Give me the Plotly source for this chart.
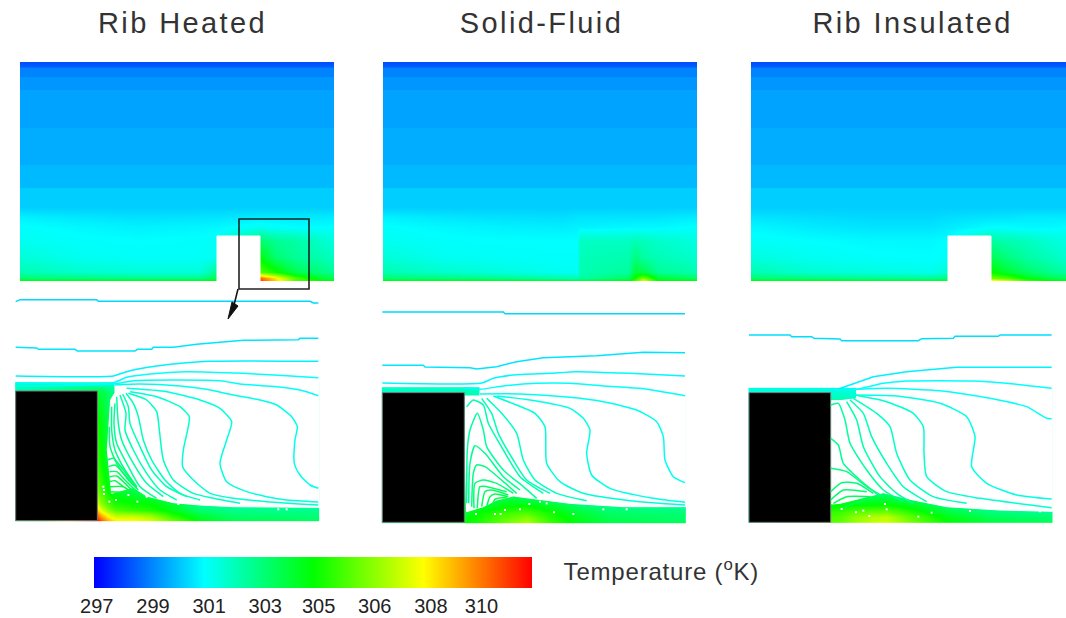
import plotly.graph_objects as go

W, H = 1066, 618
titles = ["Rib Heated", "Solid-Fluid", "Rib Insulated"]
title_centres = [182, 541, 912]
bar_temps = [296.9, 300.8, 304.7, 308.6, 312.5]
tick_vals = [297.0, 299.0, 301.0, 303.0, 304.9, 306.9, 308.9, 310.7]
tick_text = ["297", "299", "301", "303", "305", "306", "308", "310"]
cmin, cmax = 296.9, 312.5
scale = [[0, "#0000ff"], [.25, "#00ffff"], [.5, "#00ff00"], [.75, "#ffff00"], [1, "#ff0000"]]

# ---------- top field panels: temperature on a (distance, depth) grid
# the upper part of the channel is stepped, the same in all three panels
upper_y = [0, 4, 6, 14, 15, 27, 28, 65, 66, 102, 103, 125, 126, 145]
upper_t = [298.1, 298.3, 298.9, 298.9, 299.2, 299.2, 299.4, 299.4, 299.55, 299.55, 299.75, 299.75, 300.05, 300.05]
lower_y = [155, 165, 178, 195, 210, 216, 219]
a_x = [0, 60, 120, 180, 197, 240, 255, 275, 300, 314]
a_z = [
 [300.6, 300.45, 300.35, 300.4, 300.4, 300.5, 300.5, 300.5, 300.5, 300.5],
 [300.85, 300.7, 300.6, 300.65, 300.7, 301.0, 300.9, 300.8, 300.8, 300.8],
 [301.0, 300.85, 300.8, 300.85, 300.9, 303.0, 302.4, 302.2, 301.6, 301.3],
 [301.4, 301.0, 300.9, 300.9, 301.0, 304.5, 303.0, 302.4, 302.0, 301.7],
 [302.0, 301.6, 301.4, 301.4, 302.5, 306.0, 305.0, 303.5, 302.8, 302.4],
 [303.0, 302.8, 302.6, 302.6, 303.5, 311.0, 309.0, 306.0, 304.0, 303.5],
 [305.0, 305.0, 305.0, 305.0, 305.0, 311.5, 309.5, 306.0, 305.0, 305.0],
]
b_x = [0, 60, 120, 180, 194, 197, 245, 252, 260, 275, 300, 314]
b_z = [
 [300.6, 300.45, 300.35, 300.3, 300.4, 300.4, 300.4, 300.4, 300.4, 300.4, 300.5, 300.5],
 [300.85, 300.7, 300.6, 300.55, 300.6, 300.6, 300.7, 300.7, 300.7, 300.7, 300.8, 300.85],
 [301.0, 300.85, 300.8, 300.8, 300.8, 301.7, 301.7, 301.9, 301.8, 301.6, 301.4, 301.2],
 [301.4, 301.0, 300.9, 300.85, 300.85, 301.9, 302.0, 302.8, 302.2, 301.9, 301.7, 301.5],
 [302.0, 301.6, 301.3, 301.0, 301.0, 302.0, 302.3, 303.8, 303.6, 302.4, 302.2, 302.0],
 [303.0, 302.8, 302.5, 302.1, 302.0, 302.2, 303.2, 305.0, 306.8, 304.0, 303.4, 303.2],
 [305.0, 305.0, 305.0, 304.6, 304.4, 304.4, 305.0, 306.0, 308.4, 305.0, 305.0, 305.0],
]
c_x = [0, 60, 120, 180, 197, 240, 255, 275, 300, 315]
c_z = [
 [300.4, 300.3, 300.2, 300.2, 300.3, 300.4, 300.4, 300.5, 300.5, 300.5],
 [300.7, 300.5, 300.4, 300.4, 300.5, 300.8, 300.8, 300.7, 300.7, 300.8],
 [300.9, 300.8, 300.7, 300.7, 300.8, 302.2, 302.0, 301.8, 301.4, 301.2],
 [301.3, 301.0, 300.85, 300.8, 300.9, 303.4, 302.8, 302.2, 301.8, 301.5],
 [302.0, 301.5, 301.3, 301.1, 301.5, 304.8, 304.0, 303.2, 302.5, 302.2],
 [303.0, 302.8, 302.5, 302.4, 302.8, 306.5, 306.0, 304.6, 303.6, 303.2],
 [305.0, 305.0, 304.8, 304.6, 304.6, 309.5, 308.6, 306.0, 305.0, 305.0],
]
rib_x = [197, 240]
rib_y = [174, 219]

# ---------- bottom close-ups: contour lines and wall fields
p1_hx = [47, 292, 300, 320, 345, 400, 450, 520, 600, 700, 955]
p1_hy = [278, 303, 400, 520, 600, 640, 660, 675, 692]
p1_hz = [
 [301.6]*11,
 [302.0, 303.8, 303.8, 303.2, 302.4, 302.0, 302.0, 302.0, 302.0, 302.0, 302.0],
 [302.0, 305.0, 304.6, 303.6, 302.6, 302.0, 302.0, 302.0, 302.0, 302.0, 302.0],
 [302.0, 305.5, 305.0, 304.0, 303.0, 302.5, 302.0, 302.0, 302.0, 302.0, 302.0],
 [302.0, 306.5, 305.8, 304.8, 304.0, 303.6, 303.0, 302.5, 302.0, 301.8, 301.6],
 [302.0, 308.0, 307.0, 305.8, 305.0, 304.8, 304.6, 303.8, 302.6, 302.2, 302.0],
 [302.0, 309.5, 308.5, 307.0, 306.0, 305.5, 305.2, 304.3, 303.0, 302.6, 302.5],
 [302.0, 311.0, 310.0, 308.6, 307.5, 307.5, 307.0, 305.2, 303.8, 303.0, 302.9],
 [302.0, 312.5, 311.5, 310.0, 309.0, 308.8, 308.2, 306.5, 304.5, 303.6, 303.2],
]
p1_block = ([47, 292], [303, 692])
p1_mask_x = [345, 957, 957, 700, 600, 520, 440, 400, 370, 335, 322, 332, 345, 345]
p1_mask_y = [276, 276, 652, 650, 645, 638, 618, 592, 600, 610, 480, 330, 308, 276]
p1_lines = [
 (300.2, [47, 60, 290, 295, 930, 940, 955], [35, 29, 29, 34, 34, 39, 39]),
 (300.4, [47, 110, 115, 225, 232, 405, 412, 455, 460, 520, 590, 660, 730, 895, 900, 955],
         [172, 174, 178, 178, 183, 183, 178, 178, 172, 172, 163, 157, 151, 149, 145, 145]),
 (300.6, [47, 340, 370, 410, 470, 625, 955], [258, 258, 248, 238, 228, 214, 214]),
 (300.8, [47, 340, 380, 450, 560, 730, 860, 955], [278, 278, 262, 252, 245, 250, 257, 263]),
 (300.9, [47, 340, 400, 520, 660, 720, 830, 900, 955], [288, 282, 272, 270, 272, 282, 290, 300, 317]),
 (301.1, [345, 420, 540, 620, 700, 780, 830, 875, 892, 885, 883, 900, 930, 955],
         [285, 282, 288, 298, 315, 330, 345, 380, 410, 450, 520, 555, 585, 595]),
 (301.3, [380, 500, 600, 660, 695, 680, 660, 680, 740, 800, 860, 955],
         [295, 305, 330, 355, 395, 450, 520, 575, 605, 620, 630, 636]),
 (301.5, [390, 470, 540, 568, 565, 550, 548, 580, 630, 700, 800, 955],
         [305, 320, 350, 380, 410, 480, 530, 570, 610, 625, 635, 645]),
 (301.7, [385, 440, 470, 478, 490, 520, 580, 640, 720], [310, 330, 365, 420, 510, 570, 610, 625, 640]),
 (301.8, [378, 400, 415, 430, 455, 495, 540, 600], [310, 340, 380, 450, 510, 570, 610, 630]),
 (301.9, [368, 385, 390, 420, 455, 500, 560], [312, 350, 400, 470, 540, 590, 620]),
 (302.0, [360, 378, 375, 400, 440, 480, 530], [315, 370, 420, 480, 550, 600, 630]),
 (302.2, [350, 355, 365, 400, 440, 490], [320, 400, 450, 520, 580, 620]),
 (302.4, [345, 342, 350, 380, 420, 470], [340, 400, 460, 520, 590, 625]),
 (302.6, [335, 335, 345, 375, 410], [350, 420, 480, 540, 590]),
 (302.8, [328, 330, 350, 385, 415], [410, 470, 520, 570, 600]),
 (303.0, [322, 340, 370, 410], [510, 505, 540, 590]),
 (303.2, [325, 345, 380, 410], [530, 525, 560, 595]),
 (303.3, [328, 350, 375, 405], [545, 545, 570, 600]),
 (303.4, [328, 350, 375, 400], [560, 558, 580, 605]),
 (303.5, [328, 345, 370], [575, 572, 590]),
 (303.7, [330, 370, 385], [590, 590, 600]),
 (303.9, [325, 365], [605, 607]),
]
p1_dots_x = [312, 328, 348, 385, 412, 440, 520, 535, 835, 860, 310, 312, 500, 520, 560, 590]
p1_dots_y = [600, 635, 630, 615, 635, 620, 632, 642, 658, 658, 590, 612, 620, 612, 628, 632]

p2_hx = [37, 283, 300, 330, 400, 470, 540, 620, 720, 945]
p2_hy = [293, 308, 450, 600, 625, 650, 670, 697]
p2_hz = [
 [301.6]*10,
 [301.8, 302.2, 302.0, 301.8, 301.6, 301.6, 301.6, 301.6, 301.6, 301.6],
 [301.8, 302.4, 302.2, 301.8, 301.6, 301.6, 301.6, 301.6, 301.6, 301.6],
 [301.8, 302.6, 302.4, 302.6, 303.2, 302.8, 302.0, 301.6, 301.6, 301.6],
 [301.8, 302.8, 302.8, 303.2, 303.8, 303.4, 303.0, 302.4, 302.0, 301.8],
 [301.8, 303.2, 303.4, 304.0, 304.6, 304.8, 304.2, 303.2, 302.6, 302.4],
 [301.8, 303.8, 304.4, 304.8, 305.6, 306.0, 305.0, 304.0, 303.2, 302.9],
 [301.8, 304.6, 304.9, 305.2, 306.4, 307.4, 305.6, 304.4, 303.6, 303.3],
]
p2_block = ([37, 283], [308, 697])
p2_mask_x = [330, 947, 947, 760, 600, 500, 430, 380, 340, 290, 286, 286, 330, 330]
p2_mask_y = [288, 288, 650, 650, 640, 628, 618, 630, 650, 665, 500, 318, 318, 288]
p2_lines = [
 (300.2, [37, 400, 405, 945], [66, 66, 71, 71]),
 (300.4, [37, 160, 165, 300, 320, 380, 440, 520, 680, 820, 945],
         [226, 226, 231, 233, 237, 230, 215, 203, 197, 187, 188]),
 (300.7, [37, 335, 370, 430, 540, 620, 780, 945], [279, 279, 265, 255, 250, 245, 250, 258]),
 (300.9, [280, 330, 400, 500, 600, 700, 820, 945], [293, 298, 288, 280, 280, 288, 296, 317]),
 (301.0, [330, 450, 600, 700, 800, 860, 880, 885, 910, 945],
         [312, 312, 322, 335, 360, 395, 440, 510, 560, 578]),
 (301.2, [380, 480, 600, 640, 660, 650, 665, 720, 850, 945],
         [318, 330, 355, 385, 420, 490, 555, 595, 625, 637]),
 (301.4, [370, 440, 495, 525, 530, 570, 640, 780, 945], [318, 345, 370, 410, 520, 575, 610, 632, 645]),
 (301.7, [350, 395, 440, 460, 495, 560, 650], [325, 370, 430, 510, 570, 610, 632]),
 (301.9, [335, 365, 385, 430, 470, 540], [325, 370, 430, 510, 570, 610]),
 (302.1, [290, 310, 340, 355, 400, 450, 520], [350, 330, 345, 400, 480, 560, 610]),
 (302.3, [290, 292, 300, 322, 340, 350, 400, 460, 500], [640, 480, 420, 370, 420, 470, 540, 590, 625]),
 (302.5, [296, 300, 315, 345, 400, 450], [640, 520, 467, 490, 560, 600]),
 (302.7, [305, 310, 320, 345, 400, 440], [650, 550, 525, 530, 575, 610]),
 (302.9, [312, 315, 340, 380, 430], [655, 580, 570, 580, 610]),
 (303.1, [322, 330, 350, 410], [655, 590, 590, 605]),
 (303.3, [335, 345, 365, 415], [650, 605, 600, 615]),
 (303.5, [350, 360, 375, 415], [650, 620, 612, 620]),
 (303.7, [365, 375, 410], [650, 628, 622]),
 (303.8, [380, 390, 420], [650, 635, 630]),
]
p2_dots_x = [318, 375, 392, 405, 450, 478, 552, 610, 700, 770, 510, 530]
p2_dots_y = [672, 672, 672, 660, 658, 642, 667, 672, 658, 658, 635, 640]

p3_hx = [27, 272, 300, 340, 400, 440, 520, 620, 750, 935]
p3_hy = [205, 218, 240, 520, 550, 575, 590, 607]
p3_hz = [
 [301.3]*10,
 [301.3, 301.6, 301.6, 301.4, 301.3, 301.3, 301.3, 301.3, 301.3, 301.3],
 [301.3, 302.0, 302.0, 301.8, 301.3, 301.3, 301.3, 301.3, 301.3, 301.3],
 [301.3, 303.0, 303.0, 303.0, 303.2, 303.2, 302.6, 301.8, 301.5, 301.5],
 [301.3, 304.4, 304.4, 304.5, 304.5, 304.6, 304.0, 302.8, 301.9, 301.7],
 [301.3, 305.4, 305.6, 306.0, 306.4, 306.4, 305.2, 303.8, 302.8, 302.4],
 [301.3, 305.8, 306.0, 306.8, 307.4, 307.6, 306.0, 304.4, 303.4, 303.0],
 [301.3, 306.0, 306.2, 307.0, 307.8, 308.0, 306.4, 304.8, 303.8, 303.4],
]
p3_block = ([27, 272], [218, 607])
p3_mask_x = [350, 937, 937, 780, 620, 520, 430, 370, 300, 274, 274, 300, 350, 350]
p3_mask_y = [200, 200, 574, 570, 560, 540, 518, 532, 550, 552, 242, 242, 236, 200]
p3_lines = [
 (300.3, [27, 150, 155, 215, 222, 300, 305, 535, 545, 640, 645, 775, 780, 935],
         [45, 45, 50, 50, 55, 57, 62, 62, 56, 55, 49, 49, 45, 45]),
 (300.6, [272, 330, 400, 500, 650, 935], [215, 195, 170, 155, 142, 142]),
 (300.8, [280, 350, 430, 500, 700, 800, 935], [210, 208, 190, 183, 183, 190, 205]),
 (300.9, [300, 440, 600, 750, 860, 920, 935], [210, 205, 212, 235, 260, 295, 296]),
 (301.2, [330, 470, 600, 680, 705, 695, 740, 830, 935], [225, 228, 250, 290, 350, 440, 490, 525, 537]),
 (301.5, [345, 440, 520, 550, 552, 560, 620, 720, 935], [225, 245, 280, 320, 400, 470, 515, 535, 563]),
 (301.7, [340, 410, 450, 470, 510, 580, 680], [235, 280, 320, 400, 480, 530, 550]),
 (301.9, [330, 370, 395, 440, 490, 560], [240, 280, 350, 430, 500, 545]),
 (302.1, [320, 350, 370, 420, 470, 520], [245, 300, 380, 470, 520, 550]),
 (302.3, [272, 295, 315, 330, 380, 430, 490], [255, 250, 300, 370, 450, 510, 545]),
 (302.5, [272, 295, 310, 360, 420], [355, 375, 430, 480, 530]),
 (302.7, [272, 320, 380, 430], [445, 455, 500, 530]),
 (302.9, [272, 305, 350, 400], [515, 488, 490, 520]),
 (303.1, [272, 310, 380], [540, 510, 515]),
 (303.3, [280, 320, 390], [550, 530, 530]),
 (303.5, [305, 345, 400], [565, 550, 535]),
]
p3_dots_x = [305, 348, 370, 388, 435, 440, 535, 575, 690, 790, 900]
p3_dots_y = [567, 577, 572, 588, 552, 568, 590, 578, 573, 567, 574]

def dom(lo, hi, total):
    return [lo / total, hi / total]
def ydom(top, bottom):
    return [1 - bottom / H, 1 - top / H]
hidden = dict(visible=False, showgrid=False, zeroline=False, fixedrange=True, automargin=False)

layout = dict(template="none", width=W, height=H, autosize=False, margin=dict(l=0, r=0, t=0, b=0, pad=0, autoexpand=False),
              paper_bgcolor="white", plot_bgcolor="rgba(0,0,0,0)", showlegend=False,
              coloraxis=dict(colorscale=scale, cmin=cmin, cmax=cmax, showscale=False))
fig = go.Figure()

def axes(n, box, xr, yr):
    x0, y0, x1, y1 = box
    xn, yn = ("xaxis%d" % n, "yaxis%d" % n)
    layout[xn] = dict(hidden, domain=dom(x0, x1, W), range=xr)
    layout[yn] = dict(hidden, domain=ydom(y0, y1), range=yr, anchor="x%d" % n)
    layout[xn]["anchor"] = "y%d" % n
    return "x%d" % n, "y%d" % n

def poly(xs, ys, color, xa, ya, edge=None):
    fig.add_trace(go.Scatter(x=xs, y=ys, mode="lines", fill="toself", fillcolor=color,
                             line=dict(color=edge or color, width=1), xaxis=xa, yaxis=ya, hoverinfo="skip"))

def pad_grid(xs, ys, zs):
    # a heatmap paints half a cell past its last centres; keep that overhang to a pixel
    px_ = [xs[0] - 1] + list(xs) + [xs[-1] + 1]
    py_ = [ys[0] - 1] + list(ys) + [ys[-1] + 1]
    rows = [[r[0]] + list(r) + [r[-1]] for r in zs]
    return px_, py_, [rows[0]] + rows + [rows[-1]]

# top panels
top_boxes = [(20, 62, 334, 281), (383, 62, 697, 281), (751, 62, 1066, 281)]
top_data = [(a_x, a_z, True), (b_x, b_z, False), (c_x, c_z, True)]
for i, (box, (xs, zs, has_rib)) in enumerate(zip(top_boxes, top_data)):
    xa, ya = axes(i + 1, box, [0, box[2] - box[0]], [219, 0])
    full_z = [[t] * len(xs) for t in upper_t] + zs
    fig.add_trace(go.Heatmap(x=xs, y=upper_y + lower_y, z=full_z, coloraxis="coloraxis", zsmooth="best",
                             xaxis=xa, yaxis=ya, hoverinfo="skip"))
    if has_rib:
        poly([rib_x[0], rib_x[1], rib_x[1], rib_x[0], rib_x[0]],
             [rib_y[0], rib_y[0], rib_y[1], rib_y[1], rib_y[0]], "white", xa, ya)

low = [
 ((0, 290, 340, 530), [0, 1020], [720, 0], p1_hx, p1_hy, p1_hz, p1_block, p1_mask_x, p1_mask_y, p1_lines, p1_dots_x, p1_dots_y),
 ((370, 290, 710, 530), [0, 1020], [720, 0], p2_hx, p2_hy, p2_hz, p2_block, p2_mask_x, p2_mask_y, p2_lines, p2_dots_x, p2_dots_y),
 ((740, 320, 1060, 530), [0, 960], [630, 0], p3_hx, p3_hy, p3_hz, p3_block, p3_mask_x, p3_mask_y, p3_lines, p3_dots_x, p3_dots_y),
]

def level_color(t):
    f = (t - cmin) / (cmax - cmin) * 4
    stops = [(0, 0, 255), (0, 255, 255), (0, 255, 0), (255, 255, 0), (255, 0, 0)]
    k = min(int(f), 3)
    u = f - k
    c = [round(stops[k][j] + (stops[k + 1][j] - stops[k][j]) * u) for j in range(3)]
    return "rgb(%d,%d,%d)" % tuple(c)

for i, (box, xr, yr, hx, hy, hz, block, mx, my, lines, dx, dy) in enumerate(low):
    xa, ya = axes(i + 4, box, xr, yr)
    gx, gy, gz = pad_grid(hx, hy, hz)
    fig.add_trace(go.Heatmap(x=gx, y=gy, z=gz, coloraxis="coloraxis", zsmooth="best",
                             xaxis=xa, yaxis=ya, hoverinfo="skip"))
    poly(mx, my, "white", xa, ya)
    bx, by = block
    poly([bx[0], bx[1], bx[1], bx[0], bx[0]], [by[0], by[0], by[1], by[1], by[0]], "black", xa, ya, "#777777")
    for k, (t, xs, ys) in enumerate(lines):
        fig.add_trace(go.Scatter(x=xs, y=ys, mode="lines",
                                 line=dict(color=level_color(t), width=1.5, shape="spline" if k >= 2 else "linear", smoothing=0.6),
                                 xaxis=xa, yaxis=ya, hoverinfo="skip"))
    fig.add_trace(go.Scatter(x=dx, y=dy, mode="markers", marker=dict(color="white", size=2, symbol="square"),
                             xaxis=xa, yaxis=ya, hoverinfo="skip"))

# temperature bar
layout["xaxis7"] = dict(domain=dom(94, 532, W), range=[cmin, cmax], anchor="y7", showgrid=False, zeroline=False,
                        showline=False, ticks="outside", ticklen=0, tickcolor="rgba(0,0,0,0)", tickvals=tick_vals,
                        ticktext=tick_text, fixedrange=True, automargin=False,
                        tickfont=dict(family="Liberation Sans", size=20, color="#222222"))
layout["yaxis7"] = dict(hidden, domain=ydom(557, 588), range=[0, 1], anchor="x7")
fig.add_trace(go.Heatmap(x=bar_temps, y=[0, 1], z=[bar_temps, bar_temps], coloraxis="coloraxis", zsmooth="best",
                         xaxis="x7", yaxis="y7", hoverinfo="skip"))

ann = []
for t, c in zip(titles, title_centres):
    ann.append(dict(text=t, x=c / W, y=1 - 23 / H, xref="paper", yref="paper", showarrow=False,
                    xanchor="center", yanchor="middle",
                    font=dict(family="Liberation Sans", size=29, color="#333333")))
ann.append(dict(text="Temperature (<sup>o</sup>K)", x=568 / W, y=1 - 570 / H, xref="paper", yref="paper",
                xanchor="left", yanchor="middle", showarrow=False,
                font=dict(family="Liberation Sans", size=24, color="#333333")))
layout["annotations"] = ann

def px(x): return x / W
def py(y): return 1 - y / H
arrow_head = [(228, 319), (232, 302), (238, 306)]
layout["shapes"] = [
    dict(type="rect", xref="paper", yref="paper", x0=239 / W, x1=309 / W, y0=1 - 289 / H, y1=1 - 219 / H,
         line=dict(color="#222222", width=1.6)),
    dict(type="line", xref="paper", yref="paper", x0=px(238), y0=py(289), x1=px(234), y1=py(305),
         line=dict(color="#111111", width=1.6)),
    dict(type="path", xref="paper", yref="paper", fillcolor="#111111", line=dict(color="#111111", width=1),
         path="M %f %f L %f %f L %f %f Z" % tuple(v for p in arrow_head for v in (px(p[0]), py(p[1])))),
]
fig.update_layout(**layout)
post = """
document.documentElement.style.margin='0';document.body.style.margin='0';document.body.style.overflow='hidden';
document.querySelectorAll('.annotation-text').forEach(function(e){var s=e.getAttribute('data-unformatted')||e.textContent;
 e.style.letterSpacing=s.indexOf('Temp')===0?'0.8px':'2.4px';});
"""
fig.write_html("out.html", post_script=post, config=dict(displayModeBar=False))
